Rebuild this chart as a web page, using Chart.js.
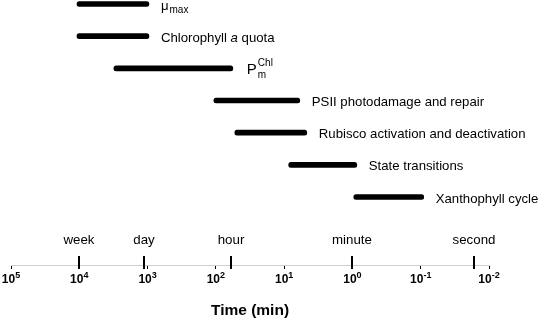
<!DOCTYPE html>
<html lang="en">
  <head>
    <meta charset="UTF-8" />
    <title>Time scales</title>
    <script src="https://cdn.jsdelivr.net/npm/chart.js@4.4.1/dist/chart.umd.min.js"></script>
    <style>
      body { margin: 0; background: #fff; }
      .chart-view { width: 540px; height: 324px; }
    </style>
  </head>
  <body>
    <div class="chart-view">
      <canvas id="chart"></canvas>
    </div>

    <script>
      //data
      const processes = [
        'μ_{max}',
        'Chlorophyll *a* quota',
        'P_{m}^{Chl}',
        'PSII photodamage and repair',
        'Rubisco activation and deactivation',
        'State transitions',
        'Xanthophyll cycle'
      ];
      const slowMin = [10800, 10800, 3110, 107, 52.7, 8.57, 0.955];
      const fastMin = [955, 955, 56.4, 5.9, 4.66, 0.863, 0.0903];

      const markerNames = ['week', 'day', 'hour', 'minute', 'second'];
      const markerMin = [10080, 1130, 60, 1, 0.0167];

      const decadeTicks = [1e5, 1e4, 1e3, 1e2, 1e1, 1e0, 1e-1, 1e-2];
      const decadeExponents = ['5', '4', '3', '2', '1', '0', '-1', '-2'];

      const FONT = 'Arial, "Liberation Sans", Helvetica, sans-serif';

      // tiny markup: _{sub} ^{sup} *italic*
      function parseRich(s) {
        return s.split(/(_\{[^}]*\}|\^\{[^}]*\}|\*[^*]*\*)/).filter(p => p).map(p => {
          if (p.startsWith('_{')) return { kind: 'sub', text: p.slice(2, -1) };
          if (p.startsWith('^{')) return { kind: 'sup', text: p.slice(2, -1) };
          if (p.startsWith('*')) return { kind: 'it', text: p.slice(1, -1) };
          return { kind: 'txt', text: p };
        });
      }

      function drawRich(ctx, s, x, y, size) {
        const small = 10;
        const parts = parseRich(s);
        for (let i = 0; i < parts.length; i++) {
          const p = parts[i];
          if (p.kind === 'txt' || p.kind === 'it') {
            ctx.font = (p.kind === 'it' ? 'italic ' : '') + size + 'px ' + FONT;
            ctx.fillText(p.text, x, y);
            x += ctx.measureText(p.text).width;
          } else {
            ctx.font = small + 'px ' + FONT;
            const dy = p.kind === 'sub' ? size * 0.36 : -size * 0.45;
            ctx.fillText(p.text, x + 1, y + dy);
            let w = ctx.measureText(p.text).width;
            const next = parts[i + 1];
            if (p.kind === 'sub' && next && next.kind === 'sup') {
              ctx.fillText(next.text, x + 1, y - size * 0.45);
              w = Math.max(w, ctx.measureText(next.text).width);
              i++;
            }
            x += w + 1;
          }
        }
      }

      const annotations = {
        id: 'annotations',
        afterDraw(chart) {
          const ctx = chart.ctx;
          const xs = chart.scales.x;
          const ys = chart.scales.y;
          const bottom = chart.chartArea.bottom;
          ctx.save();
          ctx.fillStyle = '#000';
          ctx.strokeStyle = '#000';

          // process labels right of each bar
          ctx.textBaseline = 'middle';
          ctx.textAlign = 'left';
          processes.forEach((name, i) => {
            const x = xs.getPixelForValue(fastMin[i]) + (i === 2 ? 14 : 12);
            const y = ys.getPixelForValue(i) + 2;
            drawRich(ctx, name, x, y, i === 2 ? 15 : 13.2);
          });

          // decade labels 10^n
          ctx.textBaseline = 'alphabetic';
          ctx.textAlign = 'left';
          decadeTicks.forEach((v, i) => {
            const x = xs.getPixelForValue(v);
            const exp = decadeExponents[i].replace('-', '\u2011');
            ctx.font = 'bold 12px ' + FONT;
            const wBase = ctx.measureText('10').width;
            ctx.font = 'bold 9px ' + FONT;
            const wExp = ctx.measureText(exp).width;
            const x0 = x - (wBase + wExp) / 2;
            ctx.font = 'bold 12px ' + FONT;
            ctx.fillText('10', x0, bottom + 18);
            ctx.font = 'bold 9px ' + FONT;
            ctx.fillText(exp, x0 + wBase, bottom + 13);
          });

          // reference times above the axis
          ctx.textBaseline = 'middle';
          ctx.lineWidth = 2;
          ctx.textAlign = 'center';
          ctx.font = '13.3px ' + FONT;
          markerNames.forEach((name, i) => {
            const x = Math.round(xs.getPixelForValue(markerMin[i]));
            ctx.beginPath();
            ctx.moveTo(x, bottom - 9);
            ctx.lineTo(x, bottom + 4);
            ctx.stroke();
            ctx.fillText(name, x, bottom - 25);
          });
          ctx.restore();
        }
      };

      //config
      const config = {
        type: 'bar',
        data: {
          datasets: [
            {
              data: processes.map((p, i) => ({ y: i, x: [slowMin[i], fastMin[i]] })),
              backgroundColor: '#000',
              barThickness: 5,
              borderRadius: 3,
              borderSkipped: false
            }
          ]
        },
        plugins: [annotations],
        options: {
          indexAxis: 'y',
          animation: false,
          responsive: true,
          maintainAspectRatio: false,
          layout: { padding: { left: 11, right: 51, top: 0, bottom: 0 } },
          plugins: {
            legend: { display: false },
            tooltip: { enabled: false }
          },
          scales: {
            x: {
              type: 'logarithmic',
              min: 1e-2,
              max: 1e5,
              reverse: true,
              afterBuildTicks: (scale) => {
                scale.ticks = decadeTicks.map(v => ({ value: v, major: true }));
              },
              afterFit: (scale) => {
                scale.height = 59;
              },
              border: { display: true, color: '#cfcfcf', width: 1 },
              grid: {
                drawOnChartArea: false,
                drawTicks: true,
                tickLength: 4,
                tickColor: '#000',
                tickWidth: 1
              },
              ticks: {
                autoSkip: false,
                maxRotation: 0,
                padding: 3,
                color: 'rgba(0,0,0,0)',
                font: { family: FONT, size: 11, weight: 'bold' },
                callback: () => '10'
              },
              title: {
                display: true,
                text: 'Time (min)',
                color: '#000',
                font: { family: FONT, size: 15.5, weight: 'bold' },
                padding: { top: 4, bottom: 4 }
              }
            },
            y: {
              type: 'linear',
              display: false,
              reverse: true,
              offset: false,
              min: -0.124,
              max: 8.114
            }
          }
        }
      };

      //init
      const ctx = document.getElementById('chart');
      const chart = new Chart(ctx, config);
    </script>
  </body>
</html>
